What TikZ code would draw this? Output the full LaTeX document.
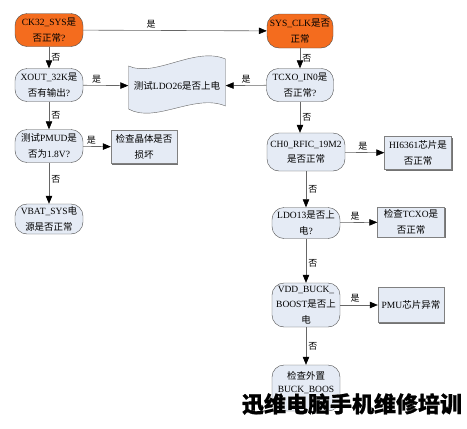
\documentclass[tikz,border=0pt]{standalone}
\usepackage{fontspec}
\setmainfont{Liberation Serif}
\newfontfamily\cjk{Noto Sans CJK SC}
\newfontfamily\brandfont{Noto Sans CJK SC}[BoldFeatures={FakeBold=1}]
\newfontfamily\halofont{Noto Sans CJK SC}[BoldFeatures={FakeBold=5}]
\usetikzlibrary{arrows.meta, shadows}

\XeTeXinterchartokenstate=1
\newXeTeXintercharclass\zhclass
\newcount\zhcode
\zhcode="4E00
\loop
  \XeTeXcharclass\zhcode=\zhclass
  \advance\zhcode by 1
\ifnum\zhcode<"A000 \repeat
\XeTeXinterchartoks 0 \zhclass = {\cjk}
\XeTeXinterchartoks 4095 \zhclass = {\cjk}
\XeTeXinterchartoks \zhclass 0 = {\rmfamily}
\XeTeXinterchartoks \zhclass 4095 = {\rmfamily}

\newcommand\brandstyle{\XeTeXinterchartokenstate=0\relax\brandfont\fontsize{22}{22}\selectfont\bfseries}
\newcommand\halostyle{\XeTeXinterchartokenstate=0\relax\halofont\fontsize{22}{22}\selectfont\bfseries}

\definecolor{testblue}{RGB}{229,235,245}
\definecolor{startorange}{RGB}{244,108,30}

\tikzset{
  test/.style={draw=black!70, fill=testblue, rounded corners=12pt, minimum width=68pt, minimum height=33pt,
    align=center, inner sep=1pt, font=\fontsize{9.5}{15.5}\selectfont},
  start/.style={test, fill=startorange},
  result/.style={draw=black!50, fill=testblue, minimum width=66pt, minimum height=33pt, align=center, inner sep=1pt,
    font=\fontsize{9.5}{15.5}\selectfont,
    drop shadow={shadow xshift=1.3pt, shadow yshift=-1.3pt, fill=black!55, opacity=1}},
  flow/.style={draw=black!60, line width=0.6pt, -{Triangle[length=8pt, width=6.5pt, color=black]}},
  answer/.style={font=\fontsize{9}{9}\selectfont, inner sep=2pt},
  watermark/.style={font={\brandstyle}, inner sep=0pt},
  halo/.style={font={\halostyle}, inner sep=0pt, text=white},
}

\begin{document}
\begin{tikzpicture}[x=1pt, y=-1pt]
\useasboundingbox (0,0) rectangle (467,429);

\node[start] (ck) at (49,30) {CK32\_SYS是\\否正常?};
\node[start, minimum width=66pt, minimum height=34pt] (sys) at (300,31) {SYS\_CLK是否\\正常};
\node[test] (xout) at (49,85) {XOUT\_32K是\\否有输出?};
\node[test, minimum width=67pt] (tcxo) at (300,85) {TCXO\_IN0是\\否正常?};
\node[test] (pmud) at (49,146) {测试PMUD是\\否为1.8V?};
\node[result] (xtal) at (144,147) {检查晶体是否\\损坏};
\node[test, minimum height=30pt] (vbat) at (49,219) {VBAT\_SYS电\\源是否正常};

\path[draw=black!60, fill=testblue] (128.5,66) .. controls (155,78) and (195,46) .. (225.5,59)
  -- (225.5,106) .. controls (195,93) and (155,124) .. (128.5,109) -- cycle;
\node[minimum width=97pt, minimum height=44pt, inner sep=1pt, font=\fontsize{9.5}{15.5}\selectfont] (ldo) at (177,86) {测试LDO26是否上电};

\node[test, minimum width=78pt, minimum height=38pt] (ch0) at (306,152) {CH0\_RFIC\_19M2\\是否正常};
\node[result, minimum width=67pt] (hi) at (418,153) {HI6361芯片是\\否正常};
\node[test, minimum height=31pt] (ldo13) at (306,223) {LDO13是否上\\电?};
\node[result, minimum width=67pt, minimum height=30pt] (tcxochk) at (411,222) {检查TCXO是\\否正常};
\node[test, minimum height=44pt] (vdd) at (306,305) {VDD\_BUCK\_\\BOOST是否上\\电};
\node[result, minimum height=35pt] (pmu) at (411,305) {PMU芯片异常};
\node[test, minimum height=46pt, font=\fontsize{9.5}{13}\selectfont] (ext) at (306,388) {检查外置\\BUCK\_BOOS\\~};

\draw[flow] (ck) -- node[answer, above, pos=.37] {是} (sys);
\draw[flow] (ck) -- node[answer, right] {否} (xout);
\draw[flow] (xout) -- node[answer, above, pos=.3] {是} (ldo);
\draw[flow] (tcxo) -- node[answer, above, pos=.5] {是} (ldo);
\draw[flow] (sys) -- node[answer, right] {否} (tcxo);
\draw[flow] (xout) -- node[answer, right] {否} (pmud);
\draw[flow] (pmud) -- node[answer, above, pos=.3] {是} (xtal);
\draw[flow] (pmud) -- node[answer, right, pos=.4] {否} (vbat);
\draw[flow] (tcxo.south) -- node[answer, right] {否} (tcxo.south |- ch0.north);
\draw[flow] (ch0) -- node[answer, above, pos=.45] {是} (hi);
\draw[flow] (ch0) -- node[answer, right] {否} (ldo13);
\draw[flow] (ldo13) -- node[answer, above, pos=.4] {是} (tcxochk);
\draw[flow] (ldo13) -- node[answer, right, pos=.55] {否} (vdd);
\draw[flow] (vdd) -- node[answer, above, pos=.4] {是} (pmu);
\draw[flow] (vdd) -- node[answer, right] {否} (ext);

\node[halo] (brandhalo) at (352,404) {迅维电脑手机维修培训};
\node[watermark] (brand) at (352,404) {迅维电脑手机维修培训};
\end{tikzpicture}
\end{document}
